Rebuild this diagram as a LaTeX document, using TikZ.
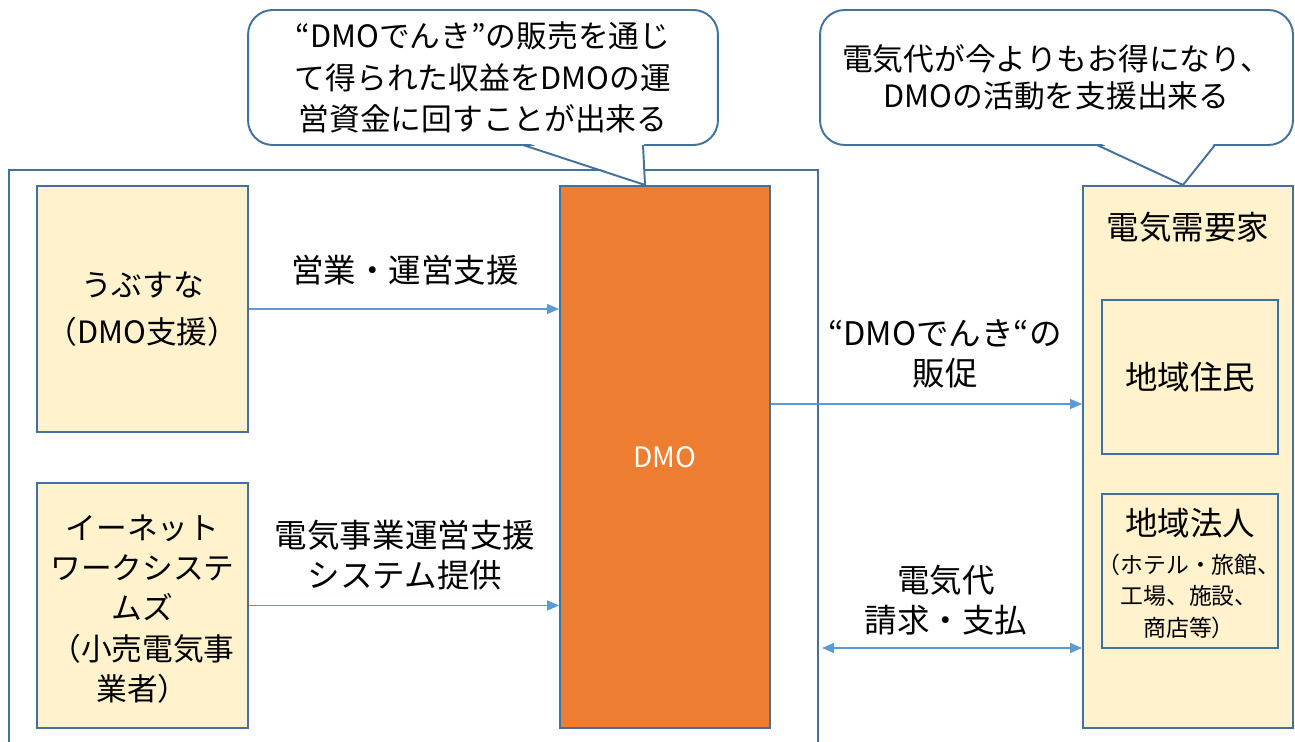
\documentclass[tikz,border=0pt]{standalone}
\usepackage{fontspec}
\setmainfont{Noto Sans CJK JP}
\usetikzlibrary{arrows.meta}
\definecolor{bordc}{HTML}{41719C}
\definecolor{fillc}{HTML}{FFF2CC}
\definecolor{orangec}{HTML}{ED7D31}
\definecolor{arrc}{HTML}{5B9BD5}
\tikzset{
  box/.style={draw=bordc, line width=1.1pt, fill=fillc, inner sep=0pt, align=center},
  boxtxt/.style={font=\fontsize{17.5}{23}\selectfont, align=center, inner sep=0pt},
  lab/.style={font=\fontsize{18.5}{23}\selectfont, align=center, inner sep=0pt},
  small/.style={font=\fontsize{13}{18}\selectfont, align=center, inner sep=0pt},
  conn/.style={draw=arrc, line width=0.8pt, -{Triangle[length=2.4mm,width=2mm]}},
  dconn/.style={draw=arrc, line width=0.8pt, {Triangle[length=2.4mm,width=2mm]}-{Triangle[length=2.4mm,width=2mm]}},
  callout/.style={draw=bordc, line width=1.1pt, fill=white, rounded corners=14pt, align=center, inner sep=0pt, font=\fontsize{17.5}{23.5}\selectfont},
  frame/.style={draw=bordc, line width=1.1pt}
}
\begin{document}
\begin{tikzpicture}[x=0.02cm, y=-0.02cm]
\useasboundingbox (0,0) rectangle (1295,742);
% outer frame
\draw[frame] (9,745) -- (9,170) -- (818,170) -- (818,745);
% left boxes
\node[box, minimum width=4.22cm, minimum height=4.92cm] (ubu) at (142.5,309) {};
\node[boxtxt, font=\fontsize{17.5}{27}\selectfont] (ubut) at (142.5,309) {うぶすな\\（DMO支援）};
\node[box, minimum width=4.22cm, minimum height=4.9cm] (enet) at (142.5,605.5) {};
\node[boxtxt] (enett) at (142.5,609) {イーネット\\ワークシステ\\ムズ\\（小売電気事\\業者）};
% DMO
\node[box, fill=orangec, minimum width=4.2cm, minimum height=10.84cm, text=white, font=\fontsize{16}{20}\selectfont] (dmo) at (665,457) {DMO};
% customers
\node[box, minimum width=4.2cm, minimum height=10.84cm] (cust) at (1188,457) {};
\node[lab] (custt) at (1188,227) {電気需要家};
\node[box, minimum width=3.52cm, minimum height=3.08cm] (res) at (1190,377) {};
\node[lab] (rest) at (1190,377) {地域住民};
\node[box, minimum width=3.52cm, minimum height=3.08cm] (corp) at (1190,571) {};
\node[lab] (corpt) at (1190,523) {地域法人};
\node[small] (corps) at (1189,596) {（ホテル・旅館、\\工場、施設、\\商店等）};
% callouts
\node[callout, minimum width=9.4cm, minimum height=2.7cm] (call1) at (483,77.5) {“DMOでんき”の販売を通じ\\て得られた収益をDMOの運\\営資金に回すことが出来る};
\fill[white] (522,141) -- (644,141) -- (645,185) -- cycle;
\draw[bordc, line width=1.1pt] (523,145) -- (645,185) -- (643,145);
\node[callout, minimum width=9.46cm, minimum height=2.7cm, font=\fontsize{17.5}{21}\selectfont] (call2) at (1056.5,77.5) {電気代が今よりもお得になり、\\DMOの活動を支援出来る};
\fill[white] (1096,141) -- (1216,141) -- (1183,185) -- cycle;
\draw[bordc, line width=1.1pt] (1097,145) -- (1183,185) -- (1215,145);
% connectors
\coordinate (y1) at (0,404);
\coordinate (y2) at (0,648);
\coordinate (bstart) at (822,648);
\draw[conn] (ubu.east) -- (ubu.east -| dmo.west);
\draw[conn] (enet.east) -- (enet.east -| dmo.west);
\draw[conn] (dmo.east |- y1) -- (cust.west |- y1);
\draw[dconn] (bstart) -- (cust.west |- y2);
% labels
\node[lab] (l1) at (405,270) {営業・運営支援};
\node[lab] (l2) at (405,555) {電気事業運営支援\\システム提供};
\node[lab] (l3) at (945,354) {“DMOでんき“の\\販促};
\node[lab] (l4) at (946,600) {電気代\\請求・支払};
\end{tikzpicture}
\end{document}
